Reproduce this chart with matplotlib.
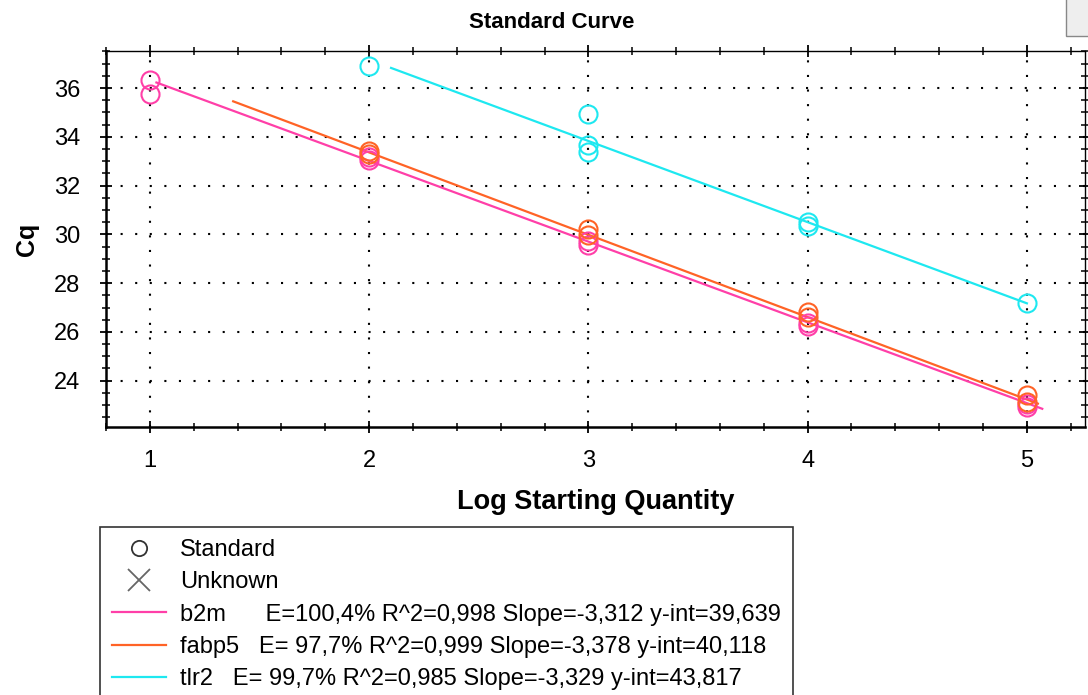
import matplotlib.pyplot as plt
from matplotlib.lines import Line2D
from matplotlib.patches import Rectangle
from matplotlib.ticker import MultipleLocator

plt.rcParams['font.family'] = ['Liberation Sans', 'DejaVu Sans']

# standards (log quantity, Cq)
b2m_x = [1, 1, 2, 2, 3, 3, 4, 4, 5, 5]
b2m_y = [36.33, 35.75, 33.17, 33.05, 29.72, 29.57, 26.37, 26.25, 23.06, 22.9]
fabp5_x = [2, 2, 3, 3, 4, 4, 5, 5]
fabp5_y = [33.4, 33.3, 30.2, 29.97, 26.8, 26.6, 23.4, 23.14]
tlr2_x = [2, 3, 3, 3, 4, 4, 5]
tlr2_y = [36.9, 34.93, 33.67, 33.38, 30.5, 30.35, 27.19]

# fit results
names = ["b2m", "fabp5", "tlr2"]
slopes = [-3.312, -3.378, -3.329]
intercepts = [39.639, 40.118, 43.817]
fit_ranges = [(1.03, 5.07), (1.38, 5.05), (2.1, 5.0)]
fit_text = ["b2m      E=100,4% R^2=0,998 Slope=-3,312 y-int=39,639",
            "fabp5   E= 97,7% R^2=0,999 Slope=-3,378 y-int=40,118",
            "tlr2   E= 99,7% R^2=0,985 Slope=-3,329 y-int=43,817"]
colors = ["#ff3fa8", "#ff6326", "#1ee8f0"]

fig = plt.figure(figsize=(10.88, 6.95), dpi=100)
ax = fig.add_axes([106 / 1088, 1 - 427 / 695, 979 / 1088, 376 / 695])

pts = [(b2m_x, b2m_y), (fabp5_x, fabp5_y), (tlr2_x, tlr2_y)]
for i in range(3):
    x0, x1 = fit_ranges[i]
    ax.plot([x0, x1], [intercepts[i] + slopes[i] * x0, intercepts[i] + slopes[i] * x1],
            color=colors[i], lw=1.6, zorder=2)
    ax.plot(pts[i][0], pts[i][1], 'o', ms=13, mfc='none', mec=colors[i], mew=1.5, zorder=3)

ax.set_xlim(0.8, 5.265)
ax.set_ylim(22.1, 37.52)
ax.xaxis.set_major_locator(MultipleLocator(1))
ax.xaxis.set_minor_locator(MultipleLocator(0.2))
ax.yaxis.set_major_locator(MultipleLocator(2))
ax.yaxis.set_minor_locator(MultipleLocator(0.5))
ax.tick_params(which='major', direction='inout', length=9, width=1.3, labelsize=17,
               top=True, right=True)
ax.tick_params(axis='x', which='major', pad=12)
ax.tick_params(axis='y', which='major', pad=14)
ax.tick_params(which='minor', direction='inout', length=6, width=1.1, top=True, right=True)
ax.grid(True, which='major', color='black', linestyle=(0, (1, 6)), lw=1.5)
for s in ['left', 'bottom']:
    ax.spines[s].set_linewidth(1.8)
for s in ['top', 'right']:
    ax.spines[s].set_linewidth(1.0)

fig.text(552 / 1088, 1 - 22 / 695, "Standard Curve", fontsize=16, fontweight='bold',
         ha='center', va='center')
ax.set_xlabel("Log Starting Quantity", fontsize=19.5, fontweight='bold', labelpad=12)
ax.set_ylabel("Cq", fontsize=18, fontweight='bold', labelpad=11)

handles = [Line2D([], [], ls='none', marker='o', ms=11, mfc='none', mec='#333333', mew=1.3),
           Line2D([], [], ls='none', marker='x', ms=16, color='#666666', mew=1.3)]
labels = ["Standard", "Unknown"]
for i in range(3):
    handles.append(Line2D([], [], color=colors[i], lw=1.6))
    labels.append(fit_text[i])
leg = fig.legend(handles, labels, loc='upper left', bbox_to_anchor=(100 / 1088, 1 - 527 / 695),
                 fontsize=17, frameon=True, fancybox=False, edgecolor='black',
                 handlelength=2.3, handletextpad=0.6, labelspacing=0.44,
                 borderaxespad=0, borderpad=0.5)
leg.get_frame().set_linewidth(1.2)

# small toolbar button in the corner
fig.patches.append(Rectangle((1066 / 1088, 1 - 36 / 695), 30 / 1088, 40 / 695,
                             transform=fig.transFigure, facecolor='#eeeeee',
                             edgecolor='#888888', lw=1))

fig.savefig("out.png", dpi=100)
